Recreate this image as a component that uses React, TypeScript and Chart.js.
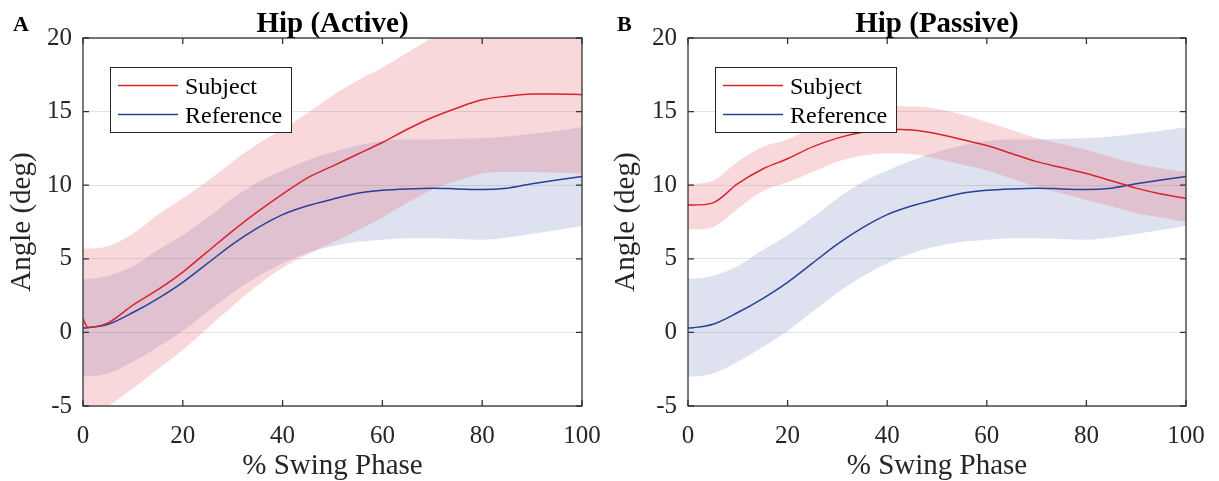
import React, { useEffect, useRef } from 'react';
import { Chart, registerables } from 'chart.js';

Chart.register(...registerables);

// ---- data ----
const phase = [0, 1, 5, 10, 15, 20, 25, 30, 35, 40, 45, 50, 55, 60, 65, 70, 75, 80, 85, 90, 95, 100];

const refMean = [0.3, 0.32, 0.55, 1.35, 2.3, 3.4, 4.7, 6.0, 7.1, 8.0, 8.6, 9.05, 9.45, 9.65, 9.75, 9.8, 9.75, 9.7, 9.8, 10.1, 10.35, 10.6];
const refUpper = [3.65, 3.65, 3.85, 4.5, 5.6, 6.6, 7.8, 9.1, 10.2, 11.0, 11.7, 12.25, 12.7, 13.0, 13.1, 13.1, 13.15, 13.2, 13.3, 13.5, 13.7, 13.95];
const refLower = [-3.0, -3.0, -2.8, -2.0, -1.0, 0.1, 1.4, 2.7, 3.8, 4.7, 5.4, 5.85, 6.15, 6.3, 6.4, 6.4, 6.35, 6.3, 6.45, 6.7, 6.95, 7.25];

const activeMean = [0.93, 0.35, 0.65, 1.85, 2.9, 4.1, 5.5, 6.9, 8.2, 9.4, 10.5, 11.3, 12.1, 12.9, 13.8, 14.6, 15.25, 15.8, 16.05, 16.2, 16.2, 16.15];
const activeUpper = [5.7, 5.7, 5.85, 6.7, 8.0, 9.1, 10.3, 11.6, 12.8, 13.8, 14.9, 16.1, 17.1, 18.0, 19.0, 20.0, 20.8, 21.3, 21.6, 21.8, 21.8, 21.7];
const activeLower = [-5.5, -5.45, -5.0, -3.8, -2.5, -1.2, 0.3, 1.8, 3.2, 4.4, 5.3, 6.1, 6.9, 7.8, 8.8, 9.7, 10.3, 10.8, 10.9, 10.9, 10.85, 10.8];

const passiveMean = [8.65, 8.65, 8.8, 10.1, 11.1, 11.8, 12.6, 13.2, 13.6, 13.8, 13.75, 13.5, 13.1, 12.7, 12.15, 11.6, 11.2, 10.8, 10.3, 9.8, 9.4, 9.1];
const passiveUpper = [10.1, 10.1, 10.3, 11.6, 12.6, 13.1, 13.9, 14.6, 15.1, 15.4, 15.35, 15.2, 14.8, 14.3, 13.75, 13.2, 12.8, 12.4, 11.9, 11.45, 11.15, 10.9];
const passiveLower = [7.0, 7.0, 7.15, 8.4, 9.6, 10.2, 10.9, 11.6, 12.0, 12.15, 12.1, 11.8, 11.4, 11.0, 10.45, 9.9, 9.45, 9.0, 8.55, 8.1, 7.8, 7.5];

const panelTitles = ['Hip (Active)', 'Hip (Passive)'];
const panelLetters = ['A', 'B'];
const seriesLabels = ['Subject', 'Reference'];
const xAxisLabel = '% Swing Phase';
const yAxisLabel = 'Angle (deg)';

// ---- styles ----
const SERIF = "'Liberation Serif', 'Times New Roman', serif";
const RED = '#D9232E';
const BLUE = '#28409A';
const RED_FILL = 'rgba(230,100,110,0.25)';
const BLUE_FILL = 'rgba(60,80,160,0.17)';
const FRAME = '#333333';

const pts = (ys: number[]) => phase.map((x, i) => ({ x, y: ys[i] }));

const framePlugin = {
  id: 'matlabFrame',
  afterDraw(chart: any, _args: any, opts: any) {
    const { ctx, chartArea: a, scales } = chart;
    ctx.save();
    // frame
    ctx.strokeStyle = FRAME;
    ctx.lineWidth = 1.3;
    ctx.strokeRect(a.left, a.top, a.right - a.left, a.bottom - a.top);
    // inward ticks
    const tl = 6;
    ctx.beginPath();
    scales.x.ticks.forEach((t: any) => {
      const px = scales.x.getPixelForValue(t.value);
      ctx.moveTo(px, a.bottom); ctx.lineTo(px, a.bottom - tl);
      ctx.moveTo(px, a.top); ctx.lineTo(px, a.top + tl);
    });
    scales.y.ticks.forEach((t: any) => {
      const py = scales.y.getPixelForValue(t.value);
      ctx.moveTo(a.left, py); ctx.lineTo(a.left + tl, py);
      ctx.moveTo(a.right, py); ctx.lineTo(a.right - tl, py);
    });
    ctx.stroke();

    // title
    ctx.fillStyle = '#000';
    ctx.font = `bold 29px ${SERIF}`;
    ctx.textAlign = 'center';
    ctx.textBaseline = 'alphabetic';
    ctx.fillText(opts.title, (a.left + a.right) / 2, 32);
    // letter
    ctx.font = `bold 22px ${SERIF}`;
    ctx.textAlign = 'left';
    ctx.fillText(opts.letter, opts.letterX, 31);

    // legend
    const bx = a.left + 27;
    const by = a.top + 29;
    const bw = 181;
    const bh = 65;
    ctx.fillStyle = '#fff';
    ctx.fillRect(bx, by, bw, bh);
    ctx.strokeStyle = '#262626';
    ctx.lineWidth = 1;
    ctx.strokeRect(bx + 0.5, by + 0.5, bw, bh);
    const rows = [
      { label: seriesLabels[0], color: RED, y: by + 18.5 },
      { label: seriesLabels[1], color: BLUE, y: by + 47.5 },
    ];
    ctx.font = `24px ${SERIF}`;
    rows.forEach((r) => {
      ctx.strokeStyle = r.color;
      ctx.lineWidth = 1.5;
      ctx.beginPath();
      ctx.moveTo(bx + 8, r.y);
      ctx.lineTo(bx + 68, r.y);
      ctx.stroke();
      ctx.fillStyle = '#000';
      ctx.textBaseline = 'alphabetic';
      ctx.fillText(r.label, bx + 75, r.y + 8.5);
    });
    ctx.restore();
  },
};

function makeConfig(mean: number[], upper: number[], lower: number[], title: string, letter: string, letterX: number, yWidth: number) {
  return {
    type: 'line',
    data: {
      datasets: [
        { label: seriesLabels[0], data: pts(mean), borderColor: RED, borderWidth: 1.5, pointRadius: 0, fill: false, cubicInterpolationMode: 'monotone' },
        { label: seriesLabels[1], data: pts(refMean), borderColor: BLUE, borderWidth: 1.5, pointRadius: 0, fill: false, cubicInterpolationMode: 'monotone' },
        { label: 'subjUpper', data: pts(upper), borderColor: 'rgba(0,0,0,0)', borderWidth: 0, pointRadius: 0, backgroundColor: RED_FILL, fill: '+1', cubicInterpolationMode: 'monotone' },
        { label: 'subjLower', data: pts(lower), borderColor: 'rgba(0,0,0,0)', borderWidth: 0, pointRadius: 0, fill: false, cubicInterpolationMode: 'monotone' },
        { label: 'refUpper', data: pts(refUpper), borderColor: 'rgba(0,0,0,0)', borderWidth: 0, pointRadius: 0, backgroundColor: BLUE_FILL, fill: '+1', cubicInterpolationMode: 'monotone' },
        { label: 'refLower', data: pts(refLower), borderColor: 'rgba(0,0,0,0)', borderWidth: 0, pointRadius: 0, fill: false, cubicInterpolationMode: 'monotone' },
      ],
    },
    options: {
      animation: false,
      responsive: false,
      events: [],
      layout: { padding: { left: 0, top: 38, right: 22, bottom: 0 } },
      plugins: {
        legend: { display: false },
        tooltip: { enabled: false },
        filler: { drawTime: 'beforeDatasetsDraw' },
        matlabFrame: { title, letter, letterX },
      },
      scales: {
        x: {
          type: 'linear',
          min: 0,
          max: 100,
          grid: { display: false },
          border: { display: false },
          ticks: { stepSize: 20, color: '#262626', padding: 7, font: { family: SERIF, size: 25 } },
          title: { display: true, text: xAxisLabel, color: '#262626', padding: { top: 0, bottom: -3 }, font: { family: SERIF, size: 29 } },
          afterFit: (s: any) => { s.height = 75; s.paddingLeft = 0; s.paddingRight = 0; },
        },
        y: {
          type: 'linear',
          min: -5,
          max: 20,
          grid: { color: '#e3e3e3', lineWidth: 1, drawTicks: false },
          border: { display: false },
          ticks: { stepSize: 5, color: '#262626', padding: 11, font: { family: SERIF, size: 25 } },
          title: { display: true, text: yAxisLabel, color: '#262626', padding: { top: 5, bottom: 0 }, font: { family: SERIF, size: 29 } },
          afterFit: (s: any) => { s.width = yWidth; s.paddingTop = 0; s.paddingBottom = 0; },
        },
      },
    },
    plugins: [framePlugin],
  };
}

function Panel({ config, left }: { config: any; left: number }) {
  const ref = useRef<HTMLCanvasElement | null>(null);
  useEffect(() => {
    if (!ref.current) return;
    const chart = new Chart(ref.current, config);
    return () => chart.destroy();
  }, [config]);
  return (
    <canvas
      ref={ref}
      width={604}
      height={481}
      style={{ position: 'absolute', left, top: 0, width: 604, height: 481 }}
    />
  );
}

const configA = makeConfig(activeMean, activeUpper, activeLower, panelTitles[0], panelLetters[0], 13, 83);
const configB = makeConfig(passiveMean, passiveUpper, passiveLower, panelTitles[1], panelLetters[1], 13, 84);

export default function App() {
  return (
    <div style={{ position: 'absolute', left: 0, top: 0, width: 1219, height: 481, background: '#fff', overflow: 'hidden' }}>
      <Panel config={configA} left={0} />
      <Panel config={configB} left={604} />
    </div>
  );
}
